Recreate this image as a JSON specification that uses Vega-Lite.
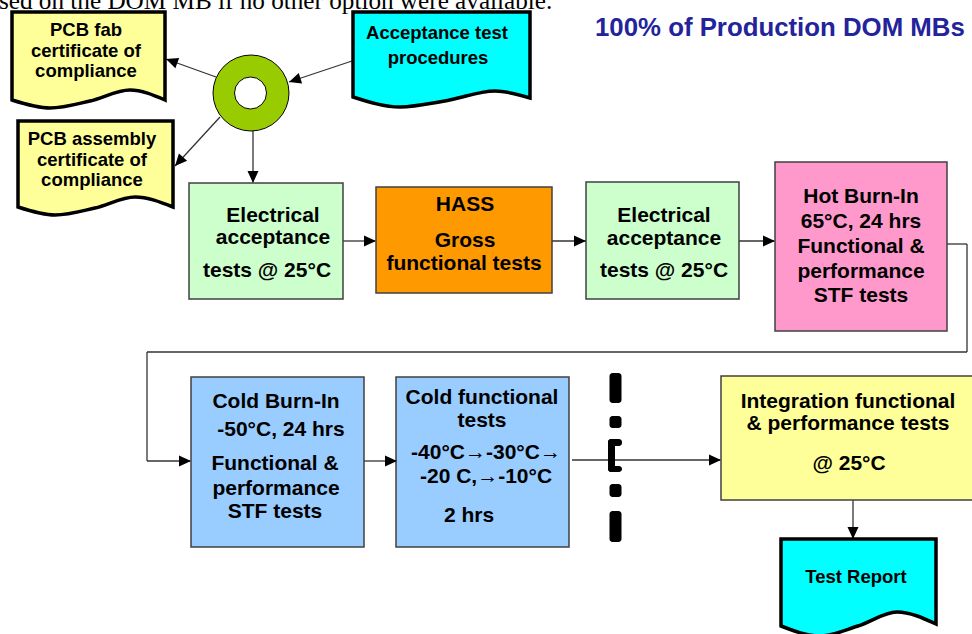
{
  "$schema": "https://vega.github.io/schema/vega-lite/v6.json",
  "width": 972,
  "height": 634,
  "padding": 0,
  "autosize": {"type": "none"},
  "background": "white",
  "config": {"view": {"stroke": null}},
  "encoding": {
    "x": {"field": "x", "type": "quantitative", "scale": {"domain": [0, 972], "nice": false, "zero": false}, "axis": null},
    "y": {"field": "y", "type": "quantitative", "scale": {"domain": [0, 634], "nice": false, "zero": false, "reverse": true}, "axis": null}
  },
  "layer": [
    {
      "data": {"values": [
        {"x": 352, "y": 61, "x2": 289, "y2": 82},
        {"x": 216, "y": 77, "x2": 166, "y2": 59},
        {"x": 220, "y": 117, "x2": 175, "y2": 166},
        {"x": 253, "y": 131, "x2": 253, "y2": 182},
        {"x": 343, "y": 241, "x2": 375, "y2": 241},
        {"x": 552, "y": 241, "x2": 586, "y2": 241},
        {"x": 739, "y": 241, "x2": 774, "y2": 241},
        {"x": 947, "y": 244, "x2": 967, "y2": 244},
        {"x": 967, "y": 244, "x2": 967, "y2": 352},
        {"x": 967, "y": 352, "x2": 147, "y2": 352},
        {"x": 147, "y": 352, "x2": 147, "y2": 461},
        {"x": 147, "y": 461, "x2": 190, "y2": 461},
        {"x": 364, "y": 461, "x2": 396, "y2": 461},
        {"x": 572, "y": 460, "x2": 720, "y2": 460},
        {"x": 853, "y": 500, "x2": 853, "y2": 538}
      ]},
      "mark": {"type": "rule", "stroke": "#333333", "strokeWidth": 1.3},
      "encoding": {"x2": {"field": "x2"}, "y2": {"field": "y2"}}
    },
    {
      "data": {"values": [
        {"doc": "fab", "kind": "cert", "x": 12, "y": 100, "y2": 12},
        {"doc": "fab", "kind": "cert", "x": 50, "y": 108, "y2": 12},
        {"doc": "fab", "kind": "cert", "x": 90, "y": 101, "y2": 12},
        {"doc": "fab", "kind": "cert", "x": 130, "y": 90, "y2": 12},
        {"doc": "fab", "kind": "cert", "x": 165, "y": 100, "y2": 12},
        {"doc": "acc", "kind": "proc", "x": 353, "y": 97, "y2": 12},
        {"doc": "acc", "kind": "proc", "x": 400, "y": 107, "y2": 12},
        {"doc": "acc", "kind": "proc", "x": 445, "y": 101, "y2": 12},
        {"doc": "acc", "kind": "proc", "x": 495, "y": 91, "y2": 12},
        {"doc": "acc", "kind": "proc", "x": 530, "y": 98, "y2": 12},
        {"doc": "asm", "kind": "cert", "x": 18, "y": 207, "y2": 121},
        {"doc": "asm", "kind": "cert", "x": 55, "y": 215, "y2": 121},
        {"doc": "asm", "kind": "cert", "x": 95, "y": 208, "y2": 121},
        {"doc": "asm", "kind": "cert", "x": 135, "y": 197, "y2": 121},
        {"doc": "asm", "kind": "cert", "x": 173, "y": 207, "y2": 121},
        {"doc": "rep", "kind": "proc", "x": 781, "y": 626, "y2": 539},
        {"doc": "rep", "kind": "proc", "x": 820, "y": 636, "y2": 539},
        {"doc": "rep", "kind": "proc", "x": 858, "y": 626, "y2": 539},
        {"doc": "rep", "kind": "proc", "x": 897, "y": 612, "y2": 539},
        {"doc": "rep", "kind": "proc", "x": 936, "y": 624, "y2": 539}
      ]},
      "mark": {"type": "area", "interpolate": "monotone", "stroke": "black", "strokeWidth": 3.5, "opacity": 1, "fillOpacity": 1},
      "encoding": {
        "y": {"field": "y", "type": "quantitative", "stack": null},
        "y2": {"field": "y2"},
        "detail": {"field": "doc"},
        "fill": {"field": "kind", "type": "nominal", "legend": null,
          "scale": {"domain": ["cert", "proc", "elec", "hass", "hot", "cold", "integ"],
                    "range": ["#FFFF99", "#00FFFF", "#CCFFCC", "#FF9900", "#FF99CC", "#99CCFF", "#FFFF99"]}}
      }
    },
    {
      "data": {"values": [
        {"kind": "elec", "x": 189, "y": 183, "x2": 343, "y2": 299},
        {"kind": "hass", "x": 376, "y": 187, "x2": 552, "y2": 293},
        {"kind": "elec", "x": 586, "y": 182, "x2": 739, "y2": 299},
        {"kind": "hot", "x": 775, "y": 162, "x2": 947, "y2": 331},
        {"kind": "cold", "x": 191, "y": 377, "x2": 364, "y2": 547},
        {"kind": "cold", "x": 396, "y": 377, "x2": 569, "y2": 547},
        {"kind": "integ", "x": 721, "y": 376, "x2": 990, "y2": 500}
      ]},
      "mark": {"type": "rect", "stroke": "#404040", "strokeWidth": 1.5},
      "encoding": {
        "x2": {"field": "x2"}, "y2": {"field": "y2"},
        "fill": {"field": "kind", "type": "nominal", "legend": null,
          "scale": {"domain": ["cert", "proc", "elec", "hass", "hot", "cold", "integ"],
                    "range": ["#FFFF99", "#00FFFF", "#CCFFCC", "#FF9900", "#FF99CC", "#99CCFF", "#FFFF99"]}}
      }
    },
    {
      "data": {"values": [{"x": 251, "y": 93}]},
      "mark": {"type": "point", "shape": "circle", "filled": true, "size": 5776, "fill": "#99CC00", "stroke": "black", "strokeWidth": 1, "opacity": 1}
    },
    {
      "data": {"values": [{"x": 250.5, "y": 93}]},
      "mark": {"type": "point", "shape": "circle", "filled": true, "size": 1024, "fill": "white", "stroke": "black", "strokeWidth": 1, "opacity": 1}
    },
    {
      "data": {"values": [
        {"x": 289, "y": 82, "dir": 252},
        {"x": 166, "y": 59, "dir": 290},
        {"x": 175, "y": 166, "dir": 222},
        {"x": 253, "y": 183, "dir": 180},
        {"x": 376, "y": 241, "dir": 90},
        {"x": 586, "y": 241, "dir": 90},
        {"x": 775, "y": 241, "dir": 90},
        {"x": 191, "y": 461, "dir": 90},
        {"x": 397, "y": 461, "dir": 90},
        {"x": 721, "y": 460, "dir": 90},
        {"x": 853, "y": 539, "dir": 180}
      ]},
      "mark": {"type": "point", "shape": "M0,0L-0.92,2L0.92,2Z", "filled": true, "size": 144, "fill": "black", "stroke": null, "opacity": 1},
      "encoding": {"angle": {"field": "dir", "type": "quantitative", "scale": {"domain": [0, 360], "range": [0, 360]}}}
    },
    {
      "data": {"values": [
        {"x": 609.5, "y": 373, "x2": 621.5, "y2": 403},
        {"x": 609.5, "y": 416, "x2": 621.5, "y2": 428},
        {"x": 608, "y": 439, "x2": 615, "y2": 472},
        {"x": 608, "y": 439, "x2": 622, "y2": 446},
        {"x": 608, "y": 466, "x2": 622, "y2": 472},
        {"x": 609.5, "y": 484, "x2": 621.5, "y2": 497},
        {"x": 609.5, "y": 511, "x2": 621.5, "y2": 542}
      ]},
      "mark": {"type": "rect", "fill": "black", "cornerRadius": 3},
      "encoding": {"x2": {"field": "x2"}, "y2": {"field": "y2"}}
    },
    {
      "data": {"values": [
        {"t": "PCB fab", "x": 86, "y": 30},
        {"t": "certificate of", "x": 86, "y": 51},
        {"t": "compliance", "x": 86, "y": 71},
        {"t": "Acceptance  test", "x": 437, "y": 33},
        {"t": "procedures", "x": 438, "y": 58},
        {"t": "PCB assembly", "x": 92, "y": 139},
        {"t": "certificate of", "x": 92, "y": 160},
        {"t": "compliance", "x": 92, "y": 180},
        {"t": "Test Report", "x": 856, "y": 577}
      ]},
      "mark": {"type": "text", "font": "Liberation Sans", "fontWeight": "bold", "fontSize": 18.5, "align": "center", "baseline": "middle", "fill": "black"},
      "encoding": {"text": {"field": "t"}}
    },
    {
      "data": {"values": [
        {"t": "Electrical", "x": 273, "y": 216},
        {"t": "acceptance", "x": 273, "y": 238},
        {"t": "tests  @ 25°C", "x": 267, "y": 271},
        {"t": "HASS", "x": 465, "y": 205},
        {"t": "Gross", "x": 465, "y": 241},
        {"t": "functional tests", "x": 464, "y": 264},
        {"t": "Electrical", "x": 664, "y": 216},
        {"t": "acceptance", "x": 664, "y": 239},
        {"t": "tests  @ 25°C", "x": 664, "y": 271},
        {"t": "Hot Burn-In", "x": 861, "y": 197},
        {"t": "65°C, 24 hrs", "x": 861, "y": 222},
        {"t": "Functional &", "x": 861, "y": 247},
        {"t": "performance", "x": 861, "y": 272},
        {"t": "STF tests", "x": 861, "y": 296},
        {"t": "Cold Burn-In", "x": 276, "y": 402},
        {"t": "-50°C, 24 hrs", "x": 281, "y": 430},
        {"t": "Functional &", "x": 275, "y": 464},
        {"t": "performance", "x": 276, "y": 489},
        {"t": "STF tests", "x": 275, "y": 512},
        {"t": "Cold functional", "x": 482, "y": 398},
        {"t": "tests", "x": 482, "y": 421},
        {"t": "-40°C→-30°C→", "x": 486, "y": 453},
        {"t": "-20 C,→-10°C", "x": 486, "y": 477},
        {"t": "2 hrs", "x": 469, "y": 516},
        {"t": "Integration functional", "x": 848, "y": 402},
        {"t": "& performance tests", "x": 848, "y": 424},
        {"t": "@ 25°C", "x": 849, "y": 464}
      ]},
      "mark": {"type": "text", "font": "Liberation Sans", "fontWeight": "bold", "fontSize": 21, "align": "center", "baseline": "middle", "fill": "black"},
      "encoding": {"text": {"field": "t"}}
    },
    {
      "data": {"values": [{"t": "100% of Production DOM MBs", "x": 595, "y": 28}]},
      "mark": {"type": "text", "font": "Liberation Sans", "fontWeight": "bold", "fontSize": 25.8, "align": "left", "baseline": "middle", "fill": "#23239B"},
      "encoding": {"text": {"field": "t"}}
    },
    {
      "data": {"values": [{"t": "sed on the DOM MB if no other option were available.", "x": -1, "y": 9}]},
      "mark": {"type": "text", "font": "Liberation Serif", "fontSize": 25.2, "align": "left", "baseline": "alphabetic", "fill": "black"},
      "encoding": {"text": {"field": "t"}}
    }
  ]
}
